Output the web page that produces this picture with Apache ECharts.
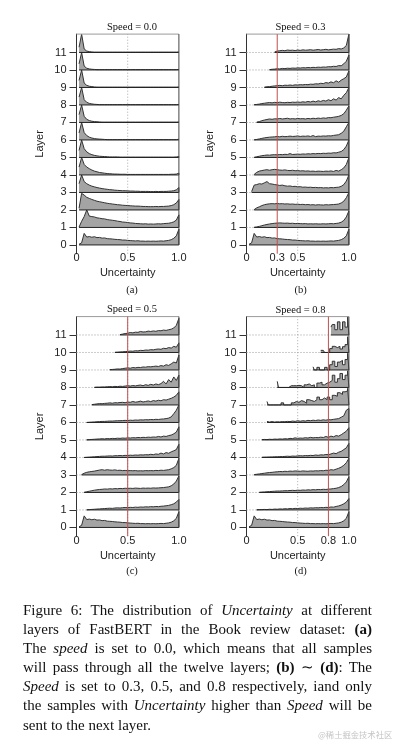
<!DOCTYPE html>
<html>
<head>
<meta charset="utf-8">
<script src="https://cdn.jsdelivr.net/npm/echarts@6/dist/echarts.min.js"></script>
<style>
html,body{margin:0;padding:0;background:#fff;}
#chart{position:absolute;left:0;top:0;width:395px;height:742px;}
#caption{position:absolute;left:23px;top:601px;width:349px;font-family:"Liberation Serif",serif;font-size:15px;line-height:19.1px;color:#111;}
#caption .l{text-align:justify;text-align-last:justify;}
#caption .last{text-align:left;}
#wm{position:absolute;left:318px;top:728px;font-family:"Noto Sans CJK SC",sans-serif;font-size:8.3px;color:#c4c4c4;white-space:nowrap;}
</style>
</head>
<body>
<div id="chart"></div>
<div id="caption">
<div class="l">Figure 6: The distribution of <i>Uncertainty</i> at different</div>
<div class="l">layers of FastBERT in the Book review dataset: <b>(a)</b></div>
<div class="l">The <i>speed</i> is set to 0.0, which means that all samples</div>
<div class="l">will pass through all the twelve layers; <b>(b)</b> ∼ <b>(d)</b>: The</div>
<div class="l"><i>Speed</i> is set to 0.3, 0.5, and 0.8 respectively, iand only</div>
<div class="l">the samples with <i>Uncertainty</i> higher than <i>Speed</i> will be</div>
<div class="last">sent to the next layer.</div>
</div>
<div id="wm">@稀土掘金技术社区</div>
<script>
// Uncertainty bin positions (x)
const binX = [0,0.025,0.05,0.075,0.1,0.125,0.15,0.175,0.2,0.225,0.25,0.275,0.3,0.325,0.35,0.375,0.4,0.425,0.45,0.475,0.5,0.525,0.55,0.575,0.6,0.625,0.65,0.675,0.7,0.725,0.75,0.775,0.8,0.825,0.85,0.875,0.9,0.925,0.95,0.975,1];
const layerTicks = [0,1,2,3,4,5,6,7,8,9,10,11];
const speeds = [0.0, 0.3, 0.5, 0.8];
const panelTitles = ['Speed = 0.0','Speed = 0.3','Speed = 0.5','Speed = 0.8'];
const panelTags = ['(a)','(b)','(c)','(d)'];
const xTicksA = [0, 0.5, 1];
const xTicksB = [0, 0.3, 0.5, 1];
const xTicksC = [0, 0.5, 1];
const xTicksD = [0, 0.5, 0.8, 1];

// Each density list ends at Uncertainty = 1.0 (heights in layer-spacing units)
const layer0 = [0.04,0.12,0.66,0.45,0.48,0.44,0.47,0.42,0.43,0.39,
  0.4,0.36,0.35,0.34,0.32,0.31,0.3,0.28,0.28,0.26,
  0.25,0.24,0.23,0.24,0.22,0.22,0.21,0.22,0.21,0.22,
  0.21,0.22,0.23,0.22,0.24,0.26,0.3,0.38,0.52,0.9];

// Speed = 0.0, layers 1..11
const speed00Layers = [
 [0.02,0.35,0.62,1.0,0.65,0.62,0.6,0.55,0.53,0.5,0.49,0.45,0.43,0.41,0.39,0.36,0.34,0.31,0.3,0.28,0.26,0.25,0.23,0.22,0.21,0.2,0.21,0.19,0.2,0.19,0.2,0.21,0.2,0.22,0.23,0.24,0.27,0.32,0.42,0.72],
 [0.1,0.95,0.85,0.72,0.66,0.6,0.55,0.5,0.47,0.44,0.41,0.38,0.36,0.34,0.32,0.3,0.29,0.27,0.26,0.25,0.24,0.23,0.22,0.22,0.21,0.2,0.2,0.19,0.19,0.19,0.2,0.19,0.2,0.2,0.21,0.22,0.25,0.3,0.4,0.6],
 [0.5,1.0,0.62,0.5,0.42,0.36,0.32,0.28,0.25,0.22,0.2,0.18,0.16,0.15,0.13,0.12,0.11,0.1,0.1,0.09,0.08,0.08,0.07,0.07,0.06,0.06,0.06,0.06,0.05,0.05,0.06,0.05,0.06,0.06,0.06,0.07,0.08,0.1,0.15,0.28],
 [0.45,1.0,0.6,0.45,0.36,0.28,0.22,0.18,0.14,0.12,0.1,0.08,0.07,0.06,0.05,0.05,0.04,0.04,0.04,0.03,0.03,0.03,0.03,0.03,0.03,0.03,0.03,0.03,0.03,0.03,0.03,0.03,0.03,0.03,0.03,0.03,0.04,0.04,0.05,0.1],
 [0.4,1.0,0.5,0.32,0.22,0.16,0.12,0.09,0.07,0.06,0.05,0.04,0.03,0.03,0.03,0.03,0.02,0.02,0.02,0.02,0.02,0.02,0.02,0.02,0.02,0.02,0.02,0.02,0.02,0.02,0.02,0.02,0.02,0.02,0.02,0.02,0.02,0.02,0.03,0.05],
 [0.4,1.0,0.42,0.25,0.16,0.11,0.08,0.06,0.05,0.04,0.03,0.02,0.02,0.02,0.02,0.02,0.02,0.02,0.02,0.02,0.02,0.02,0.02,0.02,0.02,0.02,0.02,0.02,0.02,0.02,0.02,0.02,0.02,0.02,0.02,0.02,0.02,0.02,0.02,0.04],
 [0.45,1.0,0.35,0.18,0.11,0.07,0.05,0.04,0.03,0.02,0.02,0.02,0.02,0.02,0.02,0.02,0.02,0.02,0.02,0.02,0.02,0.02,0.02,0.02,0.02,0.02,0.02,0.02,0.02,0.02,0.02,0.02,0.02,0.02,0.02,0.02,0.02,0.02,0.02,0.03],
 [0.45,1.0,0.3,0.15,0.09,0.06,0.04,0.03,0.02,0.02,0.02,0.02,0.02,0.02,0.02,0.02,0.02,0.02,0.02,0.02,0.02,0.02,0.02,0.02,0.02,0.02,0.02,0.02,0.02,0.02,0.02,0.02,0.02,0.02,0.02,0.02,0.02,0.02,0.02,0.03],
 [0.4,1.0,0.25,0.12,0.07,0.05,0.03,0.02,0.02,0.02,0.02,0.02,0.02,0.02,0.02,0.02,0.02,0.02,0.02,0.02,0.02,0.02,0.02,0.02,0.02,0.02,0.02,0.02,0.02,0.02,0.02,0.02,0.02,0.02,0.02,0.02,0.02,0.02,0.02,0.03],
 [0.35,1.0,0.22,0.1,0.06,0.04,0.03,0.02,0.02,0.02,0.02,0.02,0.02,0.02,0.02,0.02,0.02,0.02,0.02,0.02,0.02,0.02,0.02,0.02,0.02,0.02,0.02,0.02,0.02,0.02,0.02,0.02,0.02,0.02,0.02,0.02,0.02,0.02,0.02,0.03],
 [0.3,1.05,0.2,0.08,0.05,0.03,0.02,0.02,0.02,0.02,0.02,0.02,0.02,0.02,0.02,0.02,0.02,0.02,0.02,0.02,0.02,0.02,0.02,0.02,0.02,0.02,0.02,0.02,0.02,0.02,0.02,0.02,0.02,0.02,0.02,0.02,0.02,0.02,0.02,0.03]
];

// Speed = 0.3, layers 1..11
const speed03Layers = [
 [0.01,0.03,0.06,0.1,0.14,0.17,0.2,0.22,0.24,0.25,0.26,0.25,0.24,0.25,0.23,0.24,0.22,0.23,0.22,0.21,0.22,0.2,0.21,0.2,0.21,0.2,0.2,0.21,0.2,0.21,0.22,0.21,0.23,0.25,0.3,0.4,0.6,0.95],
 [0.02,0.12,0.18,0.25,0.3,0.33,0.35,0.36,0.35,0.37,0.35,0.36,0.34,0.35,0.33,0.34,0.32,0.33,0.31,0.32,0.3,0.31,0.29,0.3,0.28,0.3,0.29,0.28,0.3,0.29,0.3,0.31,0.32,0.34,0.4,0.5,0.7,1.0],
 [0.05,0.42,0.45,0.5,0.48,0.55,0.62,0.5,0.48,0.45,0.43,0.4,0.42,0.38,0.36,0.37,0.34,0.35,0.32,0.33,0.3,0.31,0.29,0.3,0.28,0.29,0.27,0.28,0.26,0.27,0.26,0.28,0.27,0.29,0.3,0.35,0.45,0.65,1.0],
 [0.03,0.15,0.22,0.25,0.28,0.3,0.27,0.3,0.32,0.3,0.28,0.27,0.29,0.26,0.25,0.27,0.24,0.25,0.23,0.24,0.22,0.23,0.21,0.22,0.2,0.22,0.21,0.2,0.22,0.21,0.23,0.2,0.26,0.22,0.3,0.4,0.6,1.0],
 [0.01,0.04,0.07,0.1,0.12,0.14,0.13,0.15,0.16,0.15,0.17,0.16,0.18,0.17,0.22,0.17,0.18,0.19,0.18,0.2,0.19,0.21,0.2,0.22,0.21,0.23,0.22,0.24,0.23,0.25,0.24,0.27,0.26,0.3,0.34,0.45,0.65,1.0],
 [0.01,0.03,0.06,0.09,0.12,0.14,0.16,0.17,0.18,0.2,0.18,0.21,0.19,0.2,0.22,0.2,0.21,0.23,0.2,0.22,0.21,0.23,0.2,0.25,0.19,0.22,0.21,0.23,0.22,0.24,0.23,0.26,0.28,0.3,0.38,0.5,0.75,1.0],
 [0.02,0.05,0.1,0.14,0.17,0.2,0.18,0.21,0.2,0.23,0.2,0.22,0.24,0.2,0.22,0.2,0.23,0.21,0.22,0.2,0.23,0.21,0.24,0.22,0.25,0.23,0.26,0.24,0.28,0.27,0.3,0.32,0.35,0.4,0.5,0.7,0.95],
 [0.02,0.03,0.05,0.08,0.1,0.12,0.14,0.12,0.15,0.13,0.16,0.14,0.13,0.15,0.14,0.16,0.15,0.17,0.15,0.18,0.16,0.2,0.17,0.22,0.18,0.24,0.2,0.26,0.22,0.3,0.24,0.35,0.28,0.42,0.35,0.55,0.7,1.0],
 [0.02,0.04,0.05,0.07,0.09,0.1,0.12,0.1,0.13,0.12,0.14,0.12,0.15,0.14,0.16,0.15,0.17,0.16,0.19,0.18,0.21,0.2,0.24,0.22,0.28,0.25,0.32,0.27,0.38,0.3,0.42,0.5,0.6,0.95],
 [0.02,0.04,0.05,0.07,0.06,0.09,0.08,0.1,0.09,0.11,0.1,0.12,0.11,0.13,0.12,0.14,0.13,0.15,0.14,0.16,0.15,0.17,0.16,0.19,0.18,0.21,0.2,0.25,0.24,0.35,0.5,0.85],
 [0.03,0.08,0.1,0.12,0.1,0.14,0.12,0.13,0.11,0.14,0.12,0.15,0.13,0.14,0.16,0.13,0.15,0.17,0.14,0.16,0.18,0.15,0.17,0.19,0.18,0.22,0.2,0.26,0.4,1.05]
];

// Speed = 0.5, layers 1..11
const speed05Layers = [
 [0.01,0.02,0.03,0.04,0.05,0.06,0.07,0.08,0.09,0.1,0.09,0.11,0.12,0.11,0.13,0.14,0.13,0.15,0.14,0.16,0.15,0.17,0.16,0.18,0.17,0.19,0.18,0.2,0.19,0.21,0.22,0.24,0.26,0.3,0.35,0.45,0.6],
 [0.01,0.04,0.07,0.1,0.13,0.15,0.17,0.18,0.2,0.19,0.21,0.2,0.22,0.21,0.23,0.22,0.24,0.23,0.24,0.23,0.25,0.24,0.23,0.25,0.24,0.25,0.24,0.26,0.25,0.26,0.27,0.28,0.3,0.32,0.38,0.48,0.65,0.95],
 [0.02,0.1,0.15,0.18,0.2,0.22,0.25,0.28,0.3,0.27,0.3,0.28,0.27,0.29,0.26,0.27,0.25,0.26,0.24,0.25,0.24,0.25,0.23,0.24,0.23,0.25,0.24,0.25,0.24,0.26,0.25,0.27,0.26,0.28,0.3,0.35,0.42,0.55,0.95],
 [0.0,0.01,0.02,0.03,0.04,0.05,0.06,0.07,0.07,0.08,0.09,0.08,0.1,0.1,0.11,0.1,0.12,0.11,0.13,0.12,0.14,0.13,0.15,0.14,0.16,0.15,0.18,0.16,0.2,0.18,0.25,0.2,0.28,0.24,0.32,0.38,0.45,0.75],
 [0.01,0.02,0.03,0.04,0.05,0.06,0.07,0.06,0.08,0.07,0.09,0.08,0.1,0.09,0.11,0.1,0.12,0.11,0.13,0.12,0.14,0.13,0.15,0.14,0.16,0.15,0.17,0.16,0.2,0.17,0.22,0.2,0.25,0.28,0.35,0.45,0.75],
 [0.0,0.01,0.02,0.03,0.04,0.05,0.06,0.06,0.07,0.08,0.08,0.09,0.1,0.1,0.11,0.12,0.11,0.13,0.12,0.14,0.13,0.15,0.14,0.16,0.15,0.17,0.16,0.18,0.17,0.19,0.2,0.22,0.25,0.32,0.5,0.7,1.0],
 [0.02,0.04,0.06,0.08,0.07,0.09,0.1,0.12,0.1,0.13,0.12,0.14,0.15,0.13,0.17,0.15,0.2,0.16,0.18,0.22,0.17,0.2,0.23,0.19,0.25,0.22,0.27,0.24,0.3,0.28,0.33,0.38,0.45,0.55,0.75],
 [0.01,0.02,0.02,0.03,0.03,0.04,0.05,0.04,0.06,0.05,0.07,0.06,0.08,0.1,0.08,0.11,0.09,0.12,0.14,0.1,0.16,0.12,0.18,0.14,0.2,0.16,0.22,0.35,0.2,0.45,0.3,0.6,0.4,0.7],
 [0.02,0.03,0.04,0.06,0.05,0.08,0.1,0.12,0.1,0.14,0.12,0.15,0.14,0.17,0.16,0.19,0.18,0.2,0.22,0.2,0.25,0.22,0.3,0.26,0.35,0.45,0.4,0.85],
 [0.01,0.02,0.03,0.04,0.05,0.06,0.08,0.07,0.1,0.09,0.12,0.11,0.14,0.13,0.16,0.15,0.18,0.2,0.18,0.24,0.22,0.28,0.25,0.35,0.3,0.55],
 [0.02,0.05,0.08,0.1,0.14,0.12,0.16,0.15,0.2,0.17,0.18,0.22,0.2,0.23,0.21,0.25,0.24,0.28,0.26,0.3,0.33,0.4,0.55,0.95]
];

// Speed = 0.8, layers 1..11
const speed08Layers = [
 [0.01,0.02,0.02,0.03,0.02,0.04,0.03,0.05,0.04,0.06,0.05,0.07,0.06,0.08,0.07,0.09,0.08,0.1,0.09,0.11,0.1,0.12,0.11,0.13,0.12,0.14,0.13,0.15,0.14,0.17,0.16,0.2,0.23,0.28,0.35,0.45,0.65],
 [0.01,0.02,0.03,0.04,0.05,0.06,0.07,0.08,0.08,0.09,0.1,0.1,0.11,0.12,0.11,0.13,0.12,0.14,0.13,0.15,0.14,0.16,0.15,0.17,0.16,0.18,0.17,0.19,0.2,0.22,0.24,0.28,0.34,0.45,0.6,0.9],
 [0.02,0.04,0.06,0.08,0.1,0.12,0.14,0.15,0.17,0.18,0.2,0.19,0.21,0.2,0.22,0.21,0.23,0.22,0.21,0.23,0.22,0.21,0.23,0.22,0.24,0.23,0.25,0.24,0.27,0.26,0.3,0.28,0.33,0.38,0.45,0.55,0.7,0.95],
 [0.01,0.02,0.02,0.03,0.03,0.04,0.04,0.05,0.05,0.06,0.07,0.06,0.08,0.07,0.09,0.1,0.09,0.11,0.1,0.12,0.11,0.14,0.12,0.15,0.14,0.17,0.16,0.2,0.25,0.22,0.3,0.35,0.45,0.55,0.8],
 [0.02,0.03,0.02,0.04,0.03,0.05,0.04,0.06,0.05,0.07,0.06,0.09,0.08,0.12,0.09,0.11,0.1,0.13,0.11,0.15,0.12,0.14,0.13,0.16,0.14,0.2,0.15,0.22,0.18,0.25,0.22,0.3,0.4,0.5,0.7],
 [0.06,0.02,0.05,0.02,0.04,0.03,0.05,0.04,0.06,0.05,0.08,0.06,0.1,0.07,0.1,0.08,0.12,0.1,0.13,0.11,0.14,0.12,0.15,0.13,0.16,0.15,0.18,0.2,0.22,0.3,0.38,0.7,0.8],
 [0.2,0.0,0.0,0.0,0.0,0.0,0.12,0.0,0.0,0.0,0.12,0.2,0.15,0.25,0.2,0.1,0.3,0.25,0.2,0.3,0.45,0.3,0.4,0.3,0.45,0.3,0.55,0.5,0.7,0.6,0.75,0.8,0.95],
 [0.35,0.0,0.0,0.0,0.0,0.1,0.1,0.1,0.12,0.1,0.0,0.15,0.2,0.1,0.15,0.0,0.25,0.3,0.15,0.25,0.3,0.4,0.7,0.3,0.5,0.8,0.45,0.7,0.95],
 [0.18,0.0,0.15,0.0,0.0,0.15,0.0,0.3,0.5,0.2,0.45,0.55,0.3,0.6,0.95],
 [0.12,0.12,0.0,0.0,0.22,0.35,0.28,0.35,0.2,0.33,0.45,0.9],
 [0.45,0.6,0.3,0.75,0.3,0.75,0.45,1.05]
];

const panelLayers = [speed00Layers, speed03Layers, speed05Layers, speed08Layers];
const panelXTicks = [xTicksA, xTicksB, xTicksC, xTicksD];
const panelBox = [
  {left: 76.5, top: 34.1, tx: 132, ty: 27.5, gy: 290},
  {left: 246.5, top: 34.1, tx: 300.5, ty: 27.5, gy: 290},
  {left: 76.5, top: 316.6, tx: 132, ty: 309.5, gy: 571.7},
  {left: 246.5, top: 316.6, tx: 300.5, ty: 310, gy: 571.7}
];

const axisFont = 'Liberation Sans';
const Y_MIN = -0.5, Y_MAX = 12.05;
const option = {
  animation: false,
  backgroundColor: '#ffffff',
  grid: [], xAxis: [], yAxis: [], series: [], graphic: []
};

function segment(pi, pts, color, type, z) {
  return {
    type: 'line', xAxisIndex: pi, yAxisIndex: pi, data: pts, symbol: 'none', showSymbol: false,
    silent: true, clip: false, z: z, lineStyle: {color: color, width: 1, type: type}
  };
}

panelBox.forEach((b, pi) => {
  option.grid.push({left: b.left, top: b.top, width: 102.4, height: 219.6, containLabel: false});
  option.xAxis.push({
    type: 'value', gridIndex: pi, min: 0, max: 1,
    axisLine: {show: false}, axisTick: {show: false}, splitLine: {show: false},
    axisLabel: {customValues: panelXTicks[pi], formatter: v => (v === 0 ? '0' : v.toFixed(1)),
      margin: -1, fontSize: 11, color: '#222', fontFamily: axisFont, showMinLabel: true, showMaxLabel: true, hideOverlap: false},
    name: 'Uncertainty', nameLocation: 'middle', nameGap: 14,
    nameTextStyle: {fontSize: 11, color: '#222', fontFamily: axisFont}
  });
  option.yAxis.push({
    type: 'value', gridIndex: pi, min: Y_MIN, max: Y_MAX,
    axisLine: {show: true, lineStyle: {color: '#333', width: 1}},
    axisTick: {show: true, customValues: layerTicks, length: 7, lineStyle: {color: '#333', width: 1}},
    axisLabel: {customValues: layerTicks, margin: 10, fontSize: 11, color: '#222', fontFamily: axisFont},
    splitLine: {show: false},
    name: 'Layer', nameLocation: 'middle', nameRotate: 90, nameGap: 31,
    nameTextStyle: {fontSize: 11, color: '#222', fontFamily: axisFont}
  });

  const layersHere = [layer0].concat(panelLayers[pi]);

  // guide lines behind ridges
  option.series.push(segment(pi, [[0.5, Y_MIN], [0.5, Y_MAX]], '#aaaaaa', [1, 2], 1));
  layersHere.forEach((h, L) => {
    const s = binX.length - h.length;
    if (binX[s] > 0.03) {
      option.series.push(segment(pi, [[0, L], [binX[s], L]], '#999999', [1, 2], 1));
    }
  });

  // ridges, top layer first so lower layers sit in front
  for (let L = 11; L >= 0; L--) {
    const h = layersHere[L];
    const s = binX.length - h.length;
    const data = h.map((v, i) => [binX[s + i], L + v]);
    data.push([1, L]);
    option.series.push({
      type: 'line', xAxisIndex: pi, yAxisIndex: pi, data: data,
      symbol: 'none', showSymbol: false, silent: true, clip: true, z: 2,
      step: (pi === 3 && L >= 7) ? 'middle' : false,
      lineStyle: {color: '#333', width: 1},
      areaStyle: {color: '#a4a4a4', opacity: 1, origin: L}
    });
    option.series.push(segment(pi, [[binX[s], L], [1, L]], '#222222', 'solid', 3));
  }

  // frame + speed threshold
  option.series.push(segment(pi, [[0, Y_MAX], [1, Y_MAX]], '#9a9a9a', 'solid', 4));
  option.series.push(segment(pi, [[1, 0], [1, Y_MAX]], '#444444', 'solid', 4));
  if (speeds[pi] > 0) {
    option.series.push(segment(pi, [[speeds[pi], Y_MIN], [speeds[pi], Y_MAX]], '#c0504d', 'solid', 6));
  }

  option.graphic.push({type: 'text', x: b.tx, y: b.ty, silent: true,
    style: {text: panelTitles[pi], font: '10.5px "Liberation Serif"', fill: '#111', align: 'center', verticalAlign: 'middle', textAlign: 'center', textVerticalAlign: 'middle'}});
  option.graphic.push({type: 'text', x: b.tx, y: b.gy, silent: true,
    style: {text: panelTags[pi], font: '10.5px "Liberation Serif"', fill: '#111', align: 'center', verticalAlign: 'middle', textAlign: 'center', textVerticalAlign: 'middle'}});
});

const chart = echarts.init(document.getElementById('chart'), null, {renderer: 'canvas'});
chart.setOption(option);
</script>
</body>
</html>
